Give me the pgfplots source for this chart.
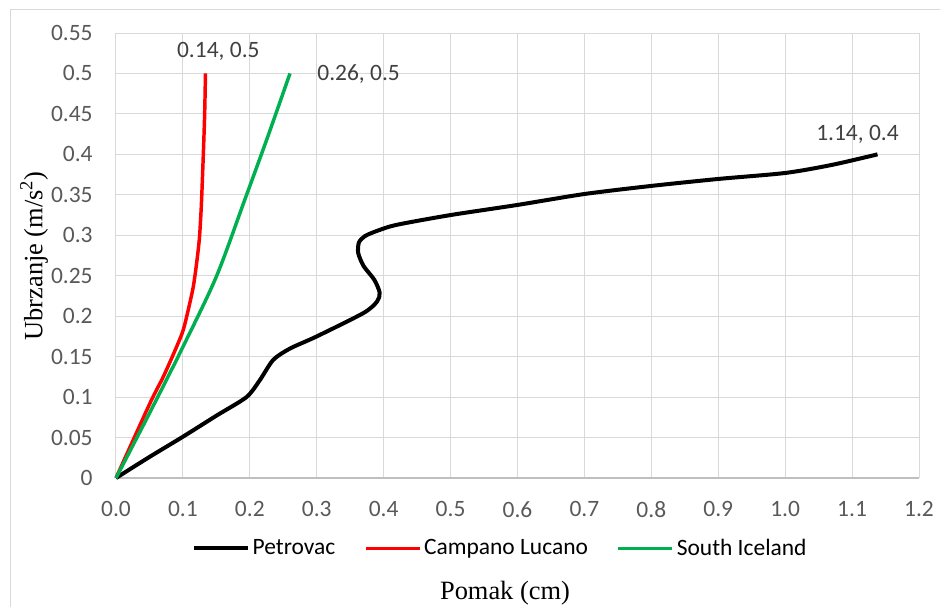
\documentclass[border=0pt]{standalone}
\usepackage{pgfplots}
\pgfplotsset{compat=1.18}
\usepackage{fontspec}
\setmainfont{Carlito}
\newfontfamily\tnr{Liberation Serif}
\definecolor{gridc}{HTML}{D9D9D9}
\definecolor{axc}{HTML}{BFBFBF}
\definecolor{tickc}{HTML}{595959}
\definecolor{lblc}{HTML}{404040}
\definecolor{redc}{HTML}{FF0000}
\definecolor{greenc}{HTML}{00B050}
\begin{document}
\begin{tikzpicture}
\path[use as bounding box] (0,0) rectangle (705pt,455.25pt);
\draw[gridc, line width=0.75pt] (7.5pt,0) -- (7.5pt,447.75pt) -- (705pt,447.75pt);
\begin{axis}[
  at={(87pt,96.75pt)}, anchor=south west,
  scale only axis, width=602.25pt, height=333.75pt,
  xmin=0, xmax=1.2, ymin=0, ymax=0.55,
  xtick={0,0.1,...,1.2}, ytick={0,0.05,...,0.55},
  xticklabels={0.0,0.1,0.2,0.3,0.4,0.5,0.6,0.7,0.8,0.9,1.0,1.1,1.2},
  yticklabels={0,0.05,0.1,0.15,0.2,0.25,0.3,0.35,0.4,0.45,0.5,0.55},
  grid=major, major grid style={gridc, line width=0.75pt},
  axis line style={draw=none},
  tick style={draw=none},
  ticklabel style={font=\fontsize{17.6}{20}\selectfont, text=tickc},
  xticklabel style={yshift=-14pt},
  yticklabel style={xshift=-14pt},
  xlabel={Pomak (cm)}, ylabel={Ubrzanje (m/s\textsuperscript{2})},
  xlabel style={font=\tnr\fontsize{19.8}{22}\selectfont, at={(axis description cs:0.4844,-0.258)}, anchor=center},
  ylabel style={font=\tnr\fontsize{19.8}{22}\selectfont, at={(axis description cs:-0.102,0.499)}, anchor=center, rotate=0},
  legend columns=3,
  legend style={at={(axis description cs:0.479,-0.158)}, anchor=center, draw=none, fill=none,
    font=\fontsize{17.6}{20}\selectfont, inner sep=0pt,
    /tikz/every even column/.append style={column sep=19.5pt}},
  legend cell align=left,
  legend image code/.code={\draw[#1] (0pt,0pt) -- (40.5pt,0pt);},
  clip=false,
]
\draw[axc, line width=1pt] (axis cs:0,0) -- (axis cs:1.2,0);
\addplot[black, line width=3pt, smooth, tension=0.45] coordinates {
(0,0) (0.05,0.026) (0.1,0.051) (0.15,0.077) (0.195,0.1) (0.215,0.121) (0.235,0.146)
(0.26,0.160) (0.30,0.175) (0.37,0.204) (0.39,0.218) (0.394,0.229) (0.386,0.245)
(0.370,0.262) (0.362,0.278) (0.363,0.291) (0.372,0.299) (0.392,0.306) (0.42,0.313)
(0.5,0.325) (0.6,0.3375) (0.7,0.351) (0.8,0.361) (0.9,0.3696) (1.0,0.377)
(1.07,0.387) (1.138,0.400)
};
\addlegendentry{Petrovac}
\addplot[redc, line width=2.6pt, smooth, tension=0.5] coordinates {
(0,0) (0.0507,0.0923) (0.0706,0.125) (0.0905,0.162) (0.1005,0.183) (0.108,0.208)
(0.1154,0.236) (0.1204,0.265) (0.1244,0.294) (0.1264,0.319) (0.1279,0.3436)
(0.1305,0.4) (0.1325,0.45) (0.1337,0.5)
};
\addlegendentry{Campano Lucano}
\addplot[greenc, line width=2.6pt, smooth, tension=0.5] coordinates {
(0,0) (0.05,0.08) (0.1,0.162) (0.15,0.249) (0.1925,0.344) (0.226,0.42) (0.26,0.5)
};
\addlegendentry{South Iceland}
\node[text=lblc, font=\fontsize{17.6}{20}\selectfont, anchor=center, xshift=9.5pt, yshift=16.5pt] at (axis cs:0.134,0.5) {0.14, 0.5};
\node[text=lblc, font=\fontsize{17.6}{20}\selectfont, anchor=west, xshift=17pt, yshift=-0.75pt] at (axis cs:0.26,0.5) {0.26, 0.5};
\node[text=lblc, font=\fontsize{17.6}{20}\selectfont, anchor=center, xshift=-15pt, yshift=15pt] at (axis cs:1.138,0.4) {1.14, 0.4};
\end{axis}
\end{tikzpicture}
\end{document}
